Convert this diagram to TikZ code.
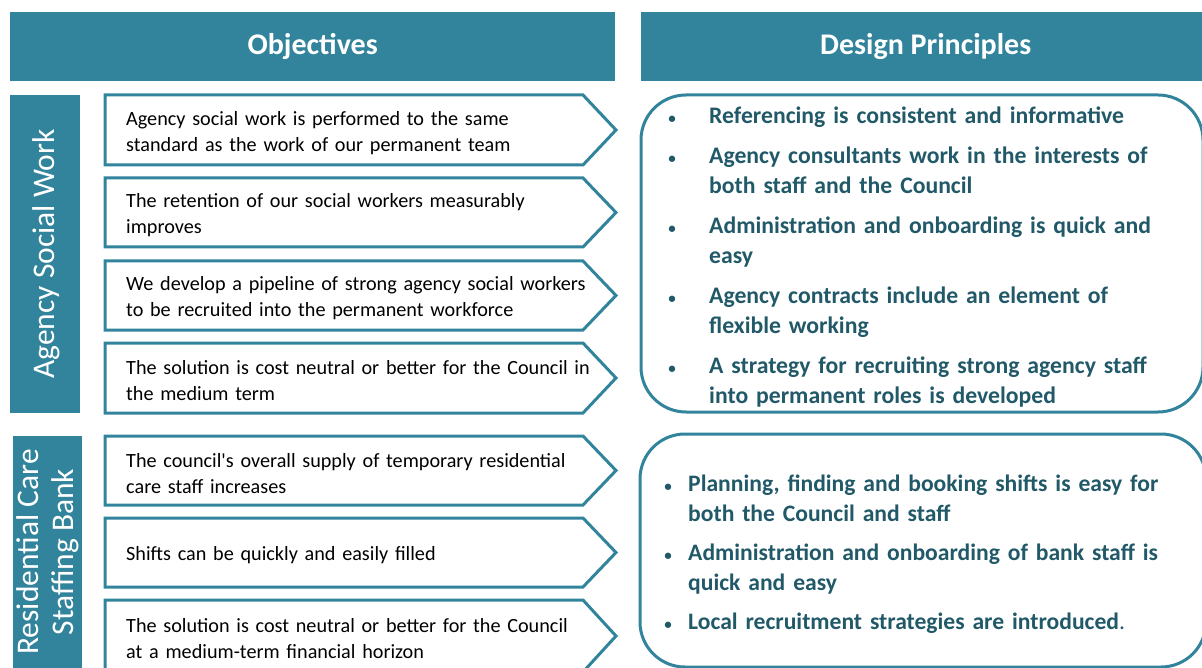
\documentclass[tikz,border=0pt]{standalone}
\usepackage{fontspec}
\setmainfont{Carlito}
\definecolor{brandteal}{HTML}{31849B}
\definecolor{deepteal}{HTML}{215968}

% one bullet point of a design-principle list:
% #1 = distance from the bullet column to the text, #2 = text
\newcommand\dpitem[2]{%
  \noindent\hangindent=#1\hangafter=1
  \makebox[12pt][c]{\fontsize{15}{15}\selectfont\textbullet}\hspace{\dimexpr#1-12pt\relax}\strut#2\par}

\tikzset{
  headbar/.style={fill=brandteal, draw=none, text=white, inner sep=0pt,
    anchor=north west, font=\bfseries\fontsize{30}{36}\selectfont},
  sidebar/.style={fill=brandteal, draw=none},
  sidetext/.style={text=white, rotate=90, align=center, inner sep=0pt,
    font=\fontsize{31.5}{35}\selectfont},
  chevron/.style={draw=brandteal, line width=3pt, fill=white, line join=miter},
  objtext/.style={anchor=west, inner sep=0pt, text width=520pt, align=left,
    font=\fontsize{20.2}{26}\selectfont},
  panel/.style={draw=brandteal, line width=3pt, rounded corners=45pt},
  dptext/.style={anchor=north west, inner sep=0pt, text=deepteal, text width=540pt,
    font=\bfseries\fontsize{23.7}{30}\selectfont},
}

% chevron-shaped objective: #1 name, #2 top, #3 bottom, #4 text
\newcommand\objrow[4]{%
  \draw[chevron] (105,#2) -- (583,#2) -- (616,{(#2+#3)/2}) -- (583,#3) -- (105,#3) -- cycle;
  \node[objtext] (#1) at (126,{(#2+#3)/2+3}) {#4};}

\begin{document}
\begin{tikzpicture}[x=1pt,y=-1pt]
\useasboundingbox (0,0) rectangle (1202,668);
\clip (0,0) rectangle (1202,668);

% column headings
\node[headbar, minimum width=605pt, minimum height=69pt] (objhead) at (10,12) {Objectives};
\node[headbar, minimum width=569pt, minimum height=69pt] (dphead) at (641,12) {Design Principles};

% section labels down the left side
\fill[sidebar] (10,95) rectangle (80,413);
\node[sidetext] (agencylbl) at (46,254) {Agency Social Work};
\fill[sidebar] (13,436) rectangle (82,672);
\node[sidetext] (banklbl) at (48,552) {Residential Care\\Staffing Bank};

% objectives
\objrow{obj1}{95}{165}{Agency social work is performed to the same\\standard as the work of our permanent team}
\objrow{obj2}{178}{247}{The retention of our social workers measurably\\improves}
\objrow{obj3}{261}{330}{We develop a pipeline of strong agency social workers\\to be recruited into the permanent workforce}
\objrow{obj4}{343}{413}{The solution is cost neutral or better for the Council in\\the medium term}
\objrow{obj5}{436}{505}{The council\textquotesingle s overall supply of temporary residential\\care staff increases}
\objrow{obj6}{518}{587}{Shifts can be quickly and easily filled}
\objrow{obj7}{600}{672}{The solution is cost neutral or better for the Council\\at a medium-term financial horizon}

% design principle panels
\draw[panel] (641,95) rectangle (1203,412);
\draw[panel] (640,434) rectangle (1206,667);

\node[dptext] (dpagency) at (666,102) {\setlength{\parskip}{10pt}%
  \dpitem{43pt}{Referencing is consistent and informative}
  \dpitem{43pt}{Agency consultants work in the interests of\newline both staff and the Council}
  \dpitem{43pt}{Administration and onboarding is quick and\newline easy}
  \dpitem{43pt}{Agency contracts include an element of\newline flexible working}
  \dpitem{43pt}{A strategy for recruiting strong agency staff\newline into permanent roles is developed}};

\node[dptext, font=\bfseries\fontsize{23.6}{29.5}\selectfont] (dpbank) at (662,471) {\setlength{\parskip}{10pt}%
  \dpitem{26pt}{Planning, finding and booking shifts is easy for\newline both the Council and staff}
  \dpitem{26pt}{Administration and onboarding of bank staff is\newline quick and easy}
  \dpitem{26pt}{Local recruitment strategies are introduced\textmd{.}}};
\end{tikzpicture}
\end{document}
